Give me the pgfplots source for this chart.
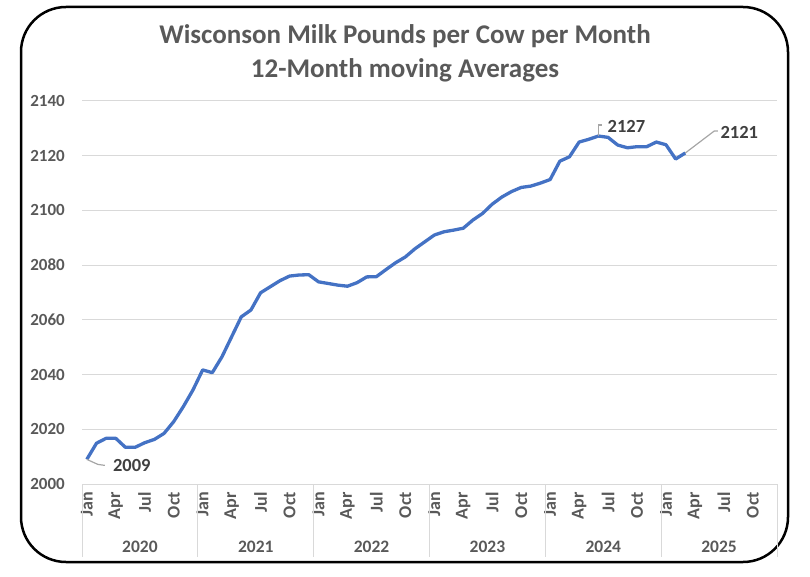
\documentclass[border=0pt]{standalone}
\usepackage{pgfplots}
\pgfplotsset{compat=1.18}
\usepackage{fontspec}
\setmainfont{Carlito}
\definecolor{lblgray}{HTML}{595959}
\definecolor{dlgray}{HTML}{404040}
\definecolor{gridgray}{HTML}{D9D9D9}
\definecolor{xlblue}{HTML}{4472C4}
\definecolor{leader}{HTML}{A6A6A6}
\begin{document}
\begin{tikzpicture}[x=1pt,y=1pt]
\useasboundingbox (0,0) rectangle (810,576);
\draw[line width=2.5pt, rounded corners=45pt] (21,14) rectangle (788,569);
\node[font=\fontsize{27}{33}\selectfont\bfseries, text=lblgray, align=center, anchor=base] at (405,532) {Wisconson Milk Pounds per Cow per Month};
\node[font=\fontsize{27}{33}\selectfont\bfseries, text=lblgray, align=center, anchor=base] at (405,498) {12-Month moving Averages};
\begin{axis}[
  at={(82pt,92pt)}, anchor=south west,
  scale only axis, width=695pt, height=383pt,
  xmin=-0.5, xmax=71.5, ymin=2000, ymax=2140,
  ytick={2000,2020,...,2140},
  xtick={0,3,...,69},
  xticklabels={Jan,Apr,Jul,Oct,Jan,Apr,Jul,Oct,Jan,Apr,Jul,Oct,Jan,Apr,Jul,Oct,Jan,Apr,Jul,Oct,Jan,Apr,Jul,Oct},
  axis line style={draw=none},
  major tick length=0pt,
  ymajorgrids, grid style={gridgray, line width=1pt},
  /pgf/number format/assume math mode=true,
  /pgf/number format/1000 sep={},
  yticklabel style={font=\fontsize{17}{20}\selectfont\bfseries, text=lblgray, anchor=east, inner sep=0pt},
  yticklabel shift=17pt,
  xticklabel style={font=\fontsize{18}{21}\selectfont\bfseries, text=lblgray, rotate=90, anchor=east, inner sep=0pt},
  xticklabel shift=8pt,
  clip=false,
]
\addplot[xlblue, line width=3.3pt, line join=round] coordinates {
(0,2009.0) (1,2014.9) (2,2016.7) (3,2016.7) (4,2013.4) (5,2013.4) (6,2015.1) (7,2016.3)
(8,2018.5) (9,2022.8) (10,2028.3) (11,2034.4) (12,2041.7) (13,2040.7) (14,2046.5) (15,2053.8)
(16,2061.1) (17,2063.6) (18,2069.9) (19,2072.1) (20,2074.3) (21,2076.0) (22,2076.4) (23,2076.5)
(24,2073.9) (25,2073.3) (26,2072.7) (27,2072.3) (28,2073.6) (29,2075.7) (30,2075.8) (31,2078.4)
(32,2080.9) (33,2083.0) (34,2086.0) (35,2088.5) (36,2091.0) (37,2092.2) (38,2092.8) (39,2093.5)
(40,2096.5) (41,2098.9) (42,2102.3) (43,2104.9) (44,2106.9) (45,2108.4) (46,2108.9) (47,2110.0)
(48,2111.3) (49,2118.0) (50,2119.6) (51,2125.0) (52,2126.0) (53,2127.2) (54,2126.7) (55,2123.9)
(56,2122.9) (57,2123.3) (58,2123.3) (59,2125.0) (60,2124.0) (61,2118.8) (62,2121.0)
};
% leader lines and data labels
\draw[leader, line width=1.2pt] (axis cs:0,2009.0) -- ++(11pt,-5pt) -- ++(7pt,-1pt);
\node[font=\fontsize{18.5}{21}\selectfont\bfseries, text=dlgray, anchor=west, inner sep=0pt] at ([shift={(26pt,-6pt)}]axis cs:0,2009.0) {2009};
\draw[leader, line width=1.2pt] (axis cs:53,2127.2) -- ++(0pt,11pt) -- ++(3.5pt,0pt);
\node[font=\fontsize{18.5}{21}\selectfont\bfseries, text=dlgray, anchor=west, inner sep=0pt] at ([shift={(9pt,9.5pt)}]axis cs:53,2127.2) {2127};
\draw[leader, line width=1.2pt] (axis cs:62,2121.0) -- ++(29pt,22pt) -- ++(3.5pt,0pt);
\node[font=\fontsize{18.5}{21}\selectfont\bfseries, text=dlgray, anchor=west, inner sep=0pt] at ([shift={(35pt,20.5pt)}]axis cs:62,2121.0) {2121};
% multi-level category axis
\pgfplotsinvokeforeach{-0.5,11.5,23.5,35.5,47.5,59.5,71.5}{
  \draw[gridgray, line width=1pt] (axis cs:#1,2000) -- ++(0pt,-73pt);
}
\node[font=\fontsize{17.5}{20}\selectfont\bfseries, text=lblgray, inner sep=0pt] at ([yshift=-63pt]axis cs:5.5,2000) {2020};
\node[font=\fontsize{17.5}{20}\selectfont\bfseries, text=lblgray, inner sep=0pt] at ([yshift=-63pt]axis cs:17.5,2000) {2021};
\node[font=\fontsize{17.5}{20}\selectfont\bfseries, text=lblgray, inner sep=0pt] at ([yshift=-63pt]axis cs:29.5,2000) {2022};
\node[font=\fontsize{17.5}{20}\selectfont\bfseries, text=lblgray, inner sep=0pt] at ([yshift=-63pt]axis cs:41.5,2000) {2023};
\node[font=\fontsize{17.5}{20}\selectfont\bfseries, text=lblgray, inner sep=0pt] at ([yshift=-63pt]axis cs:53.5,2000) {2024};
\node[font=\fontsize{17.5}{20}\selectfont\bfseries, text=lblgray, inner sep=0pt] at ([yshift=-63pt]axis cs:65.5,2000) {2025};
\end{axis}
\end{tikzpicture}
\end{document}
